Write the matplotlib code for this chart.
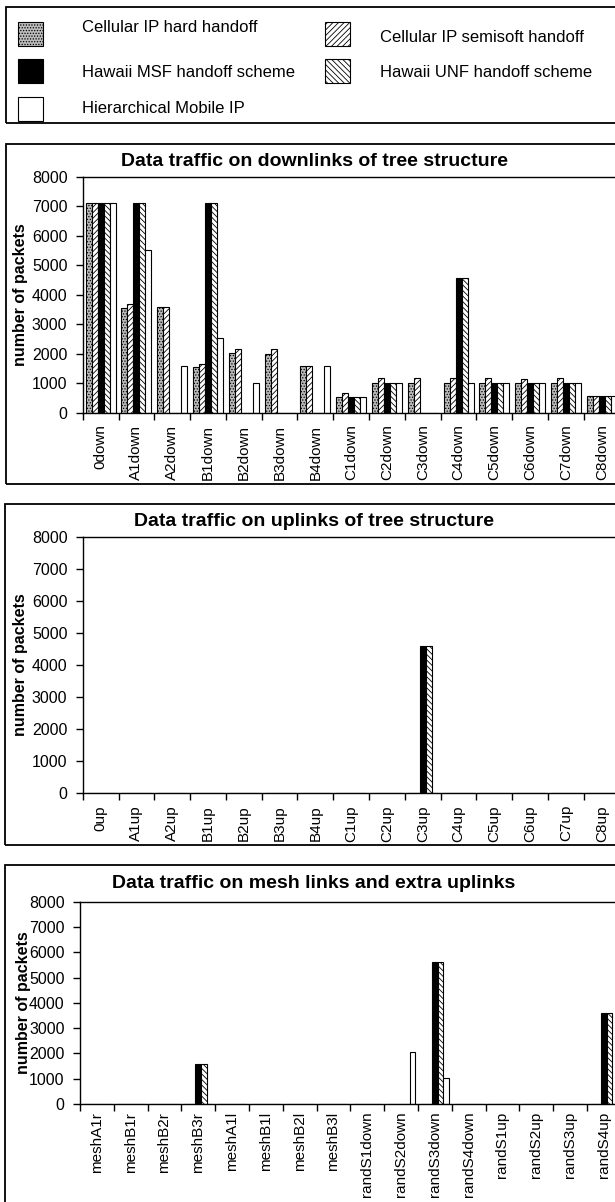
import numpy as np
import matplotlib
matplotlib.use("Agg")
import matplotlib.pyplot as plt
from matplotlib.patches import Rectangle

plt.rcParams.update({
    "font.family": ["Liberation Sans", "DejaVu Sans"],
    "hatch.linewidth": 0.6,
})

# handoff schemes, in bar order within each group
schemes = [
    "Cellular IP hard handoff",
    "Cellular IP semisoft handoff",
    "Hawaii MSF handoff scheme",
    "Hawaii UNF handoff scheme",
    "Hierarchical Mobile IP",
]

down_links = ["0down", "A1down", "A2down", "B1down", "B2down", "B3down", "B4down",
              "C1down", "C2down", "C3down", "C4down", "C5down", "C6down", "C7down", "C8down"]
hard_down = [7100, 3550, 3600, 1540, 2030, 2000, 1580, 540, 1000, 1000, 1000, 1000, 1000, 1000, 570]
semisoft_down = [7100, 3670, 3600, 1650, 2150, 2150, 1580, 680, 1160, 1160, 1160, 1160, 1130, 1160, 570]
msf_down = [7100, 7100, 0, 7100, 0, 0, 0, 540, 1000, 0, 4580, 1000, 1000, 1000, 570]
unf_down = [7100, 7100, 0, 7100, 0, 0, 0, 540, 1000, 0, 4580, 1000, 1000, 1000, 570]
hmip_down = [7100, 5530, 1580, 2520, 1000, 0, 1580, 540, 1000, 0, 1000, 1000, 1000, 1000, 570]

up_links = ["0up", "A1up", "A2up", "B1up", "B2up", "B3up", "B4up",
            "C1up", "C2up", "C3up", "C4up", "C5up", "C6up", "C7up", "C8up"]
hard_up = [0, 0, 0, 0, 0, 0, 0, 0, 0, 0, 0, 0, 0, 0, 0]
semisoft_up = [0, 0, 0, 0, 0, 0, 0, 0, 0, 0, 0, 0, 0, 0, 0]
msf_up = [0, 0, 0, 0, 0, 0, 0, 0, 0, 4580, 0, 0, 0, 0, 0]
unf_up = [0, 0, 0, 0, 0, 0, 0, 0, 0, 4580, 0, 0, 0, 0, 0]
hmip_up = [0, 0, 0, 0, 0, 0, 0, 0, 0, 0, 0, 0, 0, 0, 0]

mesh_links = ["meshA1r", "meshB1r", "meshB2r", "meshB3r", "meshA1l", "meshB1l", "meshB2l", "meshB3l",
              "randS1down", "randS2down", "randS3down", "randS4down",
              "randS1up", "randS2up", "randS3up", "randS4up"]
hard_mesh = [0, 0, 0, 0, 0, 0, 0, 0, 0, 0, 0, 0, 0, 0, 0, 0]
semisoft_mesh = [0, 0, 0, 0, 0, 0, 0, 0, 0, 0, 0, 0, 0, 0, 0, 0]
msf_mesh = [0, 0, 0, 1600, 0, 0, 0, 0, 0, 0, 5600, 0, 0, 0, 0, 3580]
unf_mesh = [0, 0, 0, 1600, 0, 0, 0, 0, 0, 0, 5600, 0, 0, 0, 0, 3580]
hmip_mesh = [0, 0, 0, 0, 0, 0, 0, 0, 0, 2040, 1030, 0, 0, 0, 0, 0]

y_ticks = [0, 1000, 2000, 3000, 4000, 5000, 6000, 7000, 8000]

styles = [
    dict(facecolor="#bcbcbc", hatch="......"),
    dict(facecolor="white", hatch="//////"),
    dict(facecolor="black"),
    dict(facecolor="white", hatch="\\\\\\\\\\\\"),
    dict(facecolor="white"),
]

W, H = 615, 1202
fig = plt.figure(figsize=(W / 100, H / 100), dpi=100)


def px_rect(left, top, right, bottom):
    return [left / W, 1 - bottom / H, (right - left) / W, (bottom - top) / H]


def frame(left, top, right, bottom):
    x, y, w, h = px_rect(left, top, right, bottom)
    fig.patches.append(Rectangle((x, y), w, h, transform=fig.transFigure,
                                 fill=False, edgecolor="black", linewidth=1.3))


def panel(box, title, title_y, ylab_x, labels, series, label_pad):
    left, top, right, bottom = box
    ax = fig.add_axes(px_rect(left, top, right, bottom))
    x = np.arange(len(labels))
    w = 0.168
    for i, (vals, st) in enumerate(zip(series, styles)):
        ax.bar(x + (i - 2) * w, vals, w, edgecolor="black", linewidth=0.8, **st)
    ax.set_xlim(-0.5, len(labels) - 0.5)
    ax.set_ylim(0, 8000)
    ax.set_yticks(y_ticks)
    ax.set_xticks(x)
    ax.set_xticklabels(labels, rotation=90, fontsize=11)
    ax.set_xticks(np.arange(len(labels) + 1) - 0.5, minor=True)
    ax.tick_params(axis="x", which="major", length=0, pad=label_pad)
    ax.tick_params(axis="x", which="minor", length=5, width=1.0)
    ax.tick_params(axis="y", length=5, width=1.0, labelsize=11.5, pad=6)
    for s in ax.spines.values():
        s.set_linewidth(1.0)
    ax.set_ylabel("number of packets", fontsize=11.5, fontweight="bold", va="center")
    ax.yaxis.set_label_coords((ylab_x - left) / (right - left), 0.5)
    fig.text(314 / W, 1 - title_y / H, title, ha="center", va="center",
             fontsize=14, fontweight="bold")
    return ax


# legend box
frame(5.7, 7.3, 640, 123.3)
legend_items = [
    (0, (18.3, 21.7), (81.7, 31.7)),
    (2, (18.3, 59.3), (81.7, 76.7)),
    (4, (18.3, 96.7), (81.7, 113.0)),
    (1, (325.0, 21.7), (380.0, 41.7)),
    (3, (325.0, 59.3), (380.0, 77.3)),
]
for idx, (px, py), (tx, ty) in legend_items:
    x, y, w, h = px_rect(px, py, px + 25, py + 24)
    fig.patches.append(Rectangle((x, y), w, h, transform=fig.transFigure,
                                 edgecolor="black", linewidth=0.8, **styles[idx]))
    fig.text(tx / W, 1 - ty / H, schemes[idx], ha="left", va="baseline", fontsize=12)

# chart frames
frame(5.7, 144, 640, 484)
frame(4.5, 504, 640, 845)
frame(4.5, 865, 640, 1220)

panel((82.7, 176.7, 619.7, 412.7), "Data traffic on downlinks of tree structure", 161.7, 20.8,
      down_links, [hard_down, semisoft_down, msf_down, unf_down, hmip_down], 8.5)
panel((82.7, 536.7, 619.7, 793.3), "Data traffic on uplinks of tree structure", 521.7, 20.5,
      up_links, [hard_up, semisoft_up, msf_up, unf_up, hmip_up], 8.5)
panel((80.0, 901.7, 620.8, 1104.0), "Data traffic on mesh links and extra uplinks", 883.3, 23.3,
      mesh_links, [hard_mesh, semisoft_mesh, msf_mesh, unf_mesh, hmip_mesh], 5.5)

fig.savefig("out.png", dpi=100)
